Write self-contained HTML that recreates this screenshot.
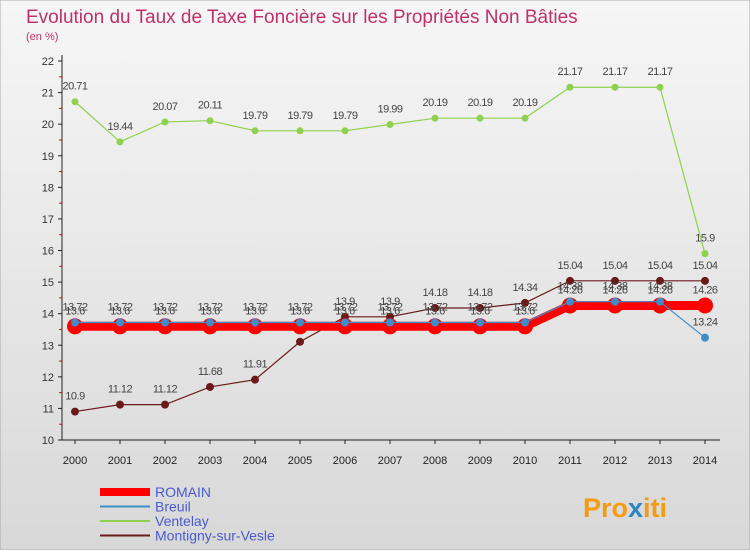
<!DOCTYPE html>
<html><head><meta charset="utf-8"><style>
body{margin:0;width:750px;height:550px;overflow:hidden;font-family:"Liberation Sans",sans-serif}
svg text{font-family:"Liberation Sans",sans-serif}
</style></head><body>
<svg id="c" width="750" height="550" xmlns="http://www.w3.org/2000/svg">
<defs>
<linearGradient id="bg" x1="0" y1="0" x2="0" y2="1"><stop offset="0" stop-color="#f6f6f6"/><stop offset="1" stop-color="#d8d8d8"/></linearGradient>
</defs>
<rect x="0" y="0" width="750" height="550" fill="url(#bg)" stroke="#aaa"/>
<text x="26" y="23" font-size="19" fill="#c0306a">Evolution du Taux de Taxe Foncière sur les Propriétés Non Bâties</text>
<text x="26" y="40" font-size="11" fill="#c0306a">(en %)</text>
<g id="axes"></g>
<g id="series"></g>
<g id="legend"></g>
<text x="583" y="517" font-size="27" font-weight="bold" fill="#f39c12">Pro<tspan fill="#2e86c1">x</tspan>iti</text>
</svg>
<script>
const years=[2000,2001,2002,2003,2004,2005,2006,2007,2008,2009,2010,2011,2012,2013,2014];
const yTicks=[10,11,12,13,14,15,16,17,18,19,20,21,22];
const romain=[13.6,13.6,13.6,13.6,13.6,13.6,13.6,13.6,13.6,13.6,13.6,14.26,14.26,14.26,14.26];
const breuil=[13.72,13.72,13.72,13.72,13.72,13.72,13.72,13.72,13.72,13.72,13.72,14.38,14.38,14.38,13.24];
const ventelay=[20.71,19.44,20.07,20.11,19.79,19.79,19.79,19.99,20.19,20.19,20.19,21.17,21.17,21.17,15.9];
const montigny=[10.9,11.12,11.12,11.68,11.91,13.11,13.9,13.9,14.18,14.18,14.34,15.04,15.04,15.04,15.04];
const NS="http://www.w3.org/2000/svg";
const X=i=>75+i*45, Y=v=>440-(v-10)*(379/12);
function mk(t,a,p){const e=document.createElementNS(NS,t);for(const k in a)e.setAttribute(k,a[k]);p.appendChild(e);return e;}
const ax=document.getElementById('axes');
const yl=mk('line',{x1:62,y1:55,x2:62,y2:440,stroke:'#222'},ax);


const xl=mk('line',{x1:62,y1:440,x2:720,y2:440,stroke:'#222'},ax);


yTicks.forEach(v=>{
  mk('line',{x1:58,y1:Y(v),x2:62,y2:Y(v),stroke:'#222'},ax);
  if(v<22)mk('line',{x1:59,y1:Y(v+0.5),x2:62,y2:Y(v+0.5),stroke:'#e00'},ax);
  const t=mk('text',{x:54,y:Y(v)+4,'font-size':11,fill:'#333','text-anchor':'end'},ax);t.textContent=v;
  
  
});
years.forEach((y,i)=>{
  mk('line',{x1:X(i),y1:440,x2:X(i),y2:444,stroke:'#222'},ax);
  const t=mk('text',{x:X(i),y:464,'font-size':11,fill:'#222','text-anchor':'middle'},ax);t.textContent=y;
  
  
});
const sg=document.getElementById('series');
function series(vals,color,lw,r,name){
  const g=mk('g',{},sg);
  
  
  mk('polyline',{points:vals.map((v,i)=>X(i)+','+Y(v)).join(' '),fill:'none',stroke:color,'stroke-width':lw},g);
  vals.forEach((v,i)=>{
    const c=mk('circle',{cx:X(i),cy:Y(v),r:r,fill:color},g);
    
    
    const t=mk('text',{x:X(i),y:Y(v)-12,'font-size':11,fill:'#444','text-anchor':'middle','letter-spacing':'-0.5'},g);
    t.textContent=v;
    
    
  });
}
series(ventelay,'#8fd14f',1.2,3.5,'ventelay');
series(montigny,'#6b1a1a',1.2,4,'montigny');
series(romain,'#ff0000',9,8,'romain');
series(breuil,'#3c8dc8',1.2,4,'breuil');
const lg=document.getElementById('legend');
const items=[['ROMAIN','#ff0000',8],['Breuil','#3c8dc8',2],['Ventelay','#8fd14f',2],['Montigny-sur-Vesle','#6b1a1a',2]];
items.forEach((it,k)=>{
  const y=492+k*14.5;
  const g=mk('g',{},lg);
  
  
  mk('line',{x1:100,y1:y,x2:150,y2:y,stroke:it[1],'stroke-width':it[2]},g);
  const t=mk('text',{x:155,y:y+5,'font-size':14,fill:'#4a5bd0'},g);t.textContent=it[0];
});
</script>
</body></html>
